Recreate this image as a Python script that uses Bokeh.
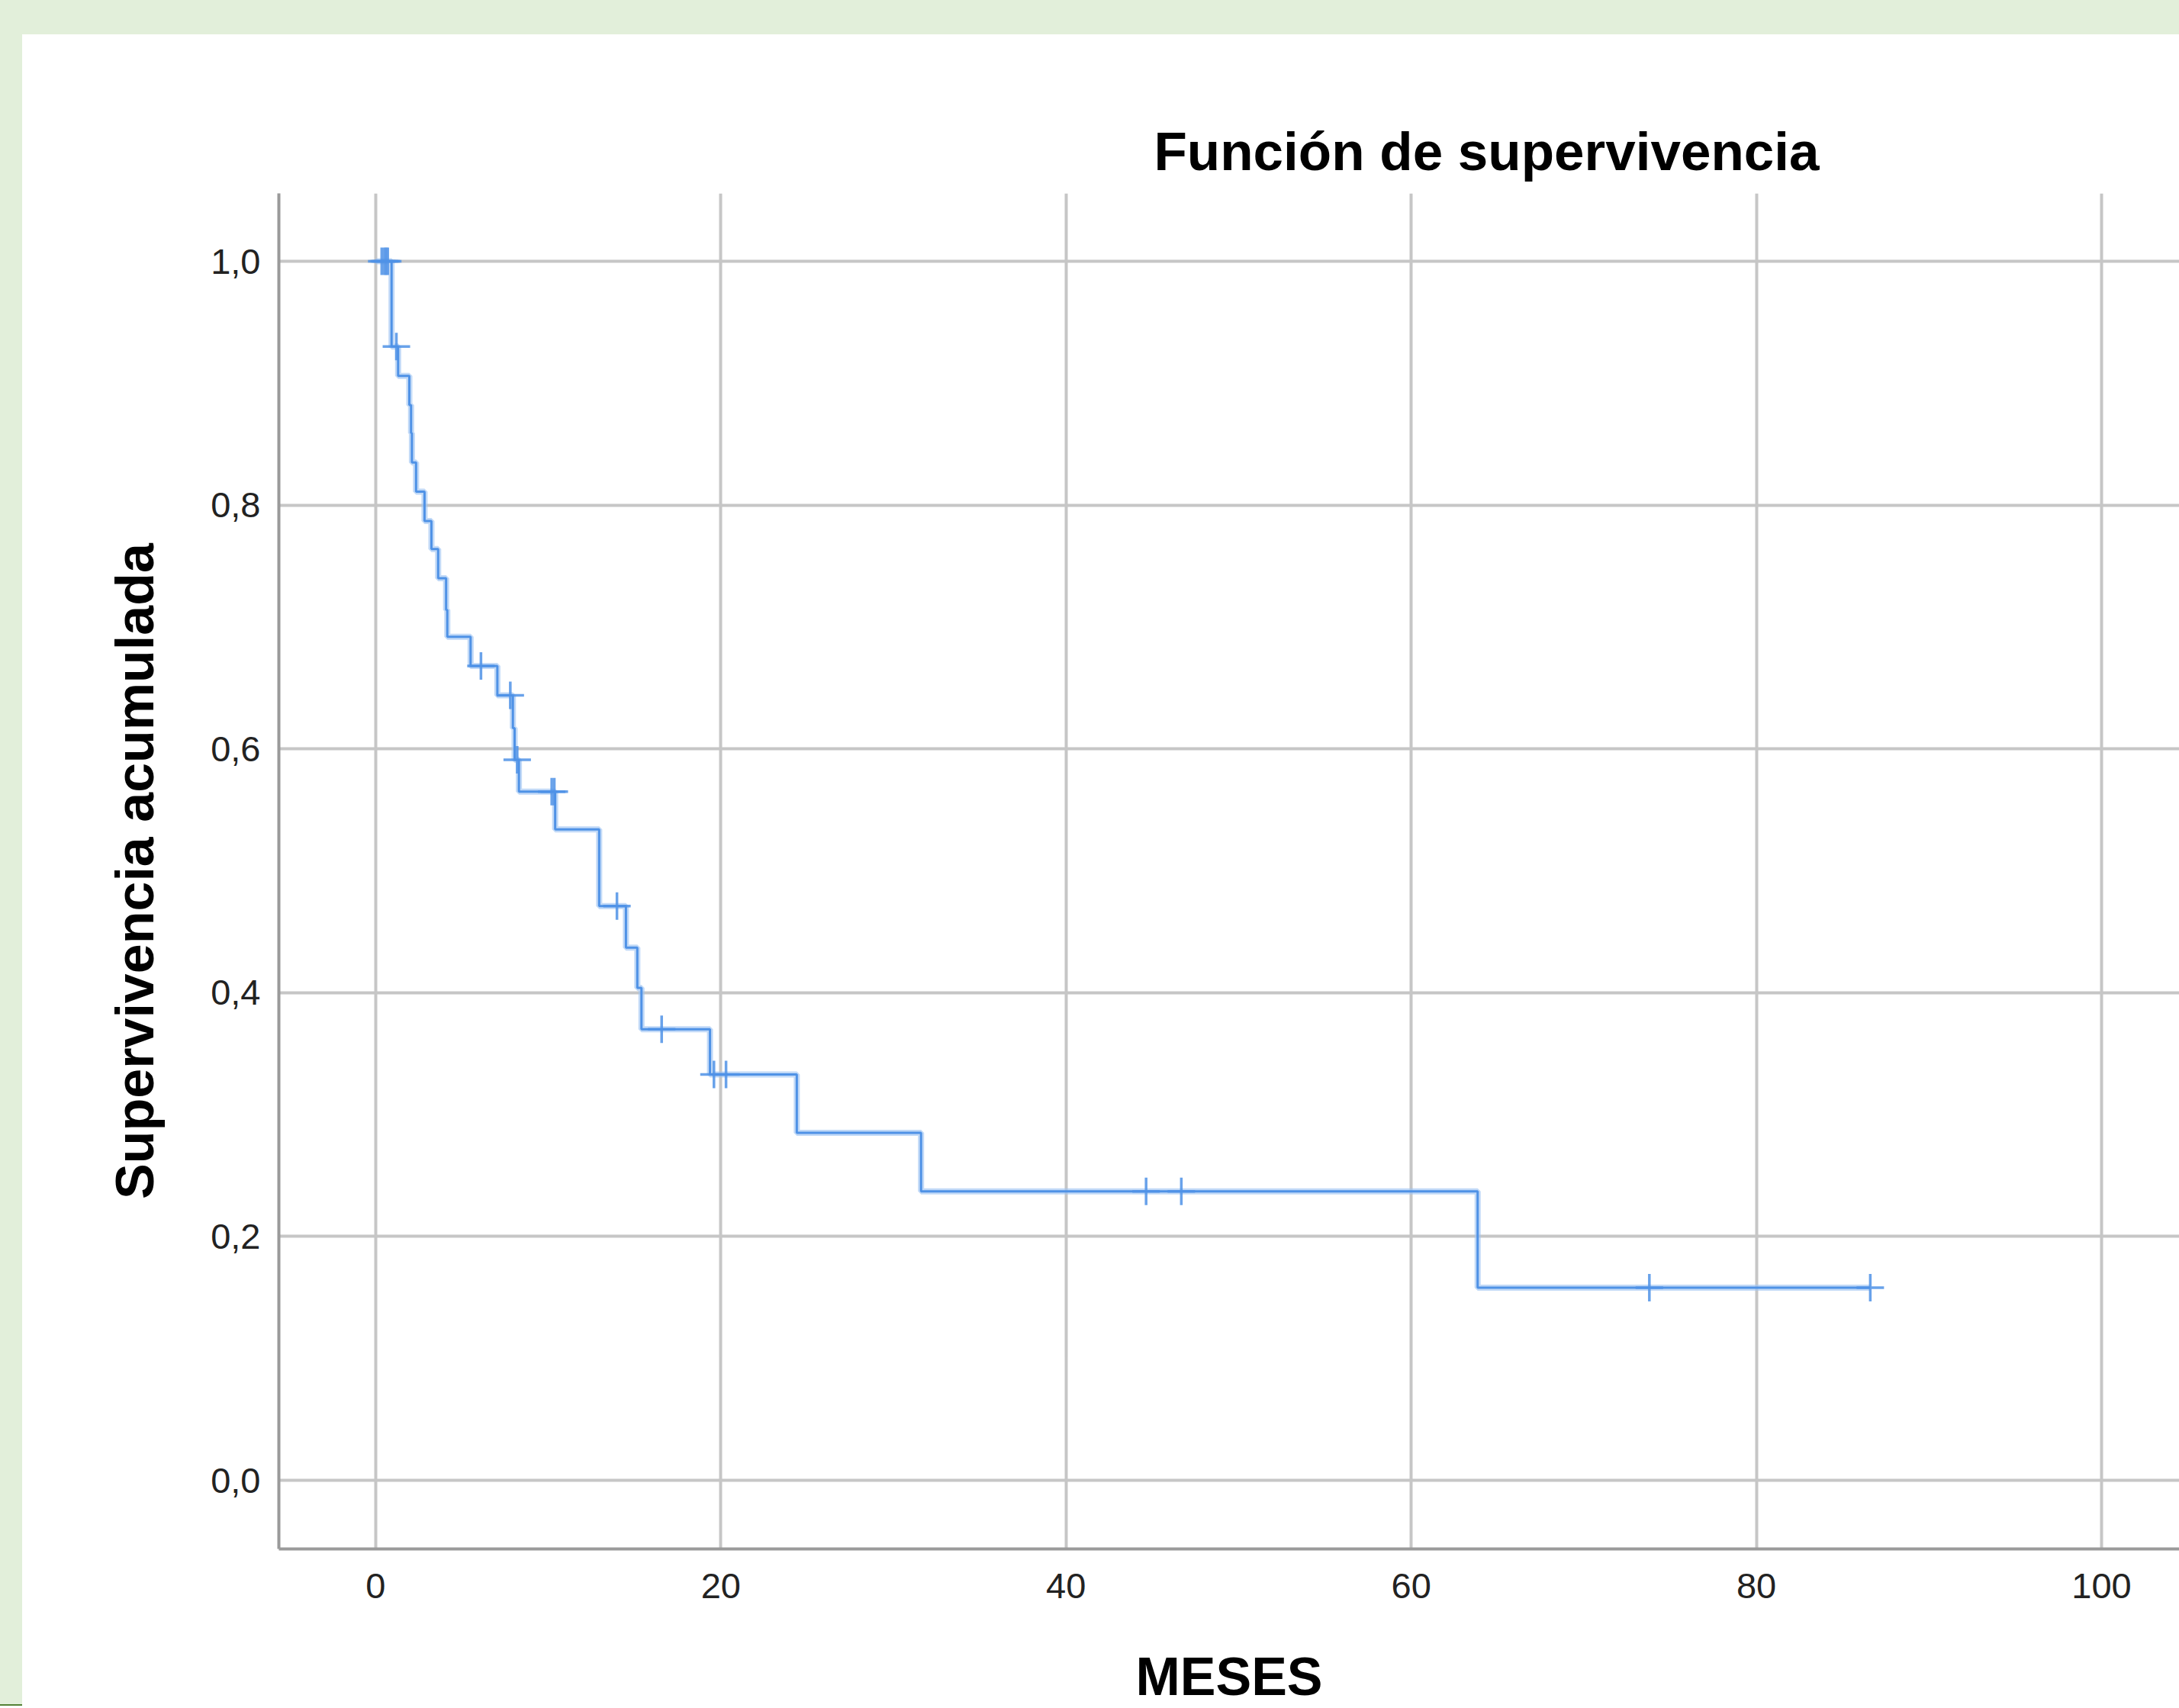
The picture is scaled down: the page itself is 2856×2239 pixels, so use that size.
from bokeh.plotting import figure
from bokeh.models import Range1d, FixedTicker, Title, GlobalInlineStyleSheet
from bokeh.embed import file_html
from bokeh.resources import INLINE

# ---------------- data ----------------
drop_times = [0.92, 1.30, 1.95, 2.05, 2.10, 2.34, 2.83, 3.23, 3.62, 4.08, 4.15,
              5.50, 7.05, 7.95, 8.05, 8.30, 10.40, 12.95, 14.50, 15.16, 15.40,
              19.37, 24.40, 31.60, 63.85]
survival_after = [0.930, 0.906, 0.882, 0.859, 0.835, 0.811, 0.787, 0.764, 0.740,
                  0.714, 0.692, 0.668, 0.644, 0.617, 0.591, 0.565, 0.534, 0.471,
                  0.437, 0.404, 0.370, 0.333, 0.285, 0.237, 0.158]
last_followup = 86.6
censor_times = [0.35, 0.5, 0.6, 0.7, 1.2, 6.1, 7.8, 8.2, 10.2, 10.35, 13.98, 16.57,
                19.6, 20.3, 44.64, 46.68, 73.8, 86.6]
censor_surv = [1.0, 1.0, 1.0, 1.0, 0.930, 0.668, 0.644, 0.591, 0.565, 0.565, 0.471,
               0.370, 0.333, 0.333, 0.237, 0.237, 0.158, 0.158]
x_ticks = [0, 20, 40, 60, 80, 100]
y_ticks = [0.0, 0.2, 0.4, 0.6, 0.8, 1.0]
y_tick_labels = ["0,0", "0,2", "0,4", "0,6", "0,8", "1,0"]
title_text = "Función de supervivencia"
x_label = "MESES"
y_label = "Supervivencia acumulada"

step_x = [0.0] + drop_times + [last_followup]
step_y = [1.0] + survival_after + [survival_after[-1]]

FONT = "Liberation Sans"
GREEN = "#e2efda"
BLUE = "#4f92e6"

p = figure(width=2827, height=2194, output_backend="svg", toolbar_location=None,
           x_range=Range1d(-5.61, 104.51), y_range=Range1d(-0.0563, 1.0557))
p.margin = (45, 0, 0, 29)
p.min_border_left = 336
p.min_border_right = 0
p.min_border_top = 208
p.min_border_bottom = 209
p.outline_line_color = None
p.background_fill_color = "white"
p.border_fill_color = "white"

p.stylesheets = [GlobalInlineStyleSheet(css=(
    "html{background:"
    "linear-gradient(#548235,#548235) 0 2234px/29px 2px no-repeat,"
    f"linear-gradient({GREEN},{GREEN}) 0 0/100% 45px no-repeat,"
    f"linear-gradient({GREEN},{GREEN}) 0 0/29px 2234px no-repeat,"
    "#ffffff;}"
    "body{background:transparent;}"
))]

# title
p.title = Title(text=title_text, align="left", offset=1147, standoff=32,
                text_font=FONT, text_font_size="71px", text_font_style="bold",
                text_color="#000000")

# axes
for ax in (p.xaxis[0], p.yaxis[0]):
    ax.axis_line_color = "#9a9a9a"
    ax.axis_line_width = 4
    ax.major_tick_in = 0
    ax.major_tick_out = 0
    ax.minor_tick_line_color = None
    ax.major_tick_line_color = None
    ax.major_label_text_font = FONT
    ax.major_label_text_font_size = "47px"
    ax.major_label_text_color = "#222222"
    ax.axis_label_text_font = FONT
    ax.axis_label_text_font_size = "70px"
    ax.axis_label_text_font_style = "bold"
    ax.axis_label_text_color = "#000000"

p.xaxis.ticker = FixedTicker(ticks=x_ticks)
p.yaxis.ticker = FixedTicker(ticks=y_ticks)
p.yaxis.major_label_overrides = dict(zip(y_ticks, y_tick_labels))
p.xaxis.axis_label = x_label
p.yaxis.axis_label = y_label
p.xaxis.major_label_standoff = 32
p.xaxis.axis_label_standoff = 61
p.yaxis.major_label_standoff = 24
p.yaxis.axis_label_standoff = 57

# grids
for g in (p.xgrid[0], p.ygrid[0]):
    g.grid_line_color = "#c6c6c6"
    g.grid_line_width = 4

# survival curve (soft halo + core)
p.step(step_x, step_y, mode="after", line_color="#9fc4f3", line_width=8, line_alpha=0.65)
p.step(step_x, step_y, mode="after", line_color=BLUE, line_width=3)

# censored marks
p.scatter(censor_times, censor_surv, marker="cross", size=36, line_width=3.5,
          line_color=BLUE, line_alpha=0.85)

open("out.html", "w").write(file_html(p, INLINE))
